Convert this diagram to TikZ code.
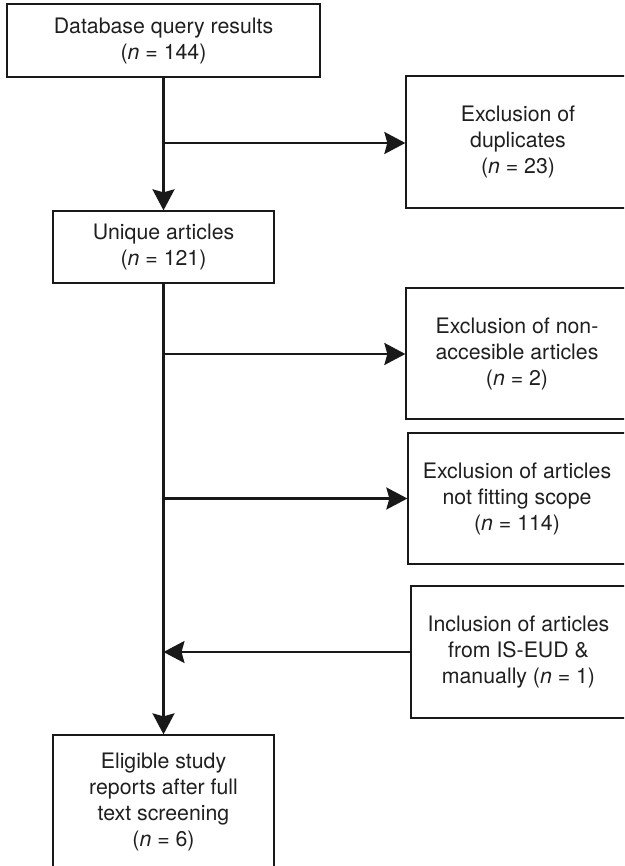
\documentclass[tikz,border=0pt]{standalone}
\usepackage{fontspec}
\setmainfont{TeX Gyre Heros}
\usetikzlibrary{arrows.meta}
\begin{document}
\begin{tikzpicture}[x=1pt,y=-1pt,
  box/.style={draw=black!90, line width=1.3pt, rectangle, inner sep=0pt, align=center,
    font=\fontsize{21.3}{26}\selectfont, text=black!88},
  conn/.style={draw=black!90, line width=2.4pt},
  arr/.style={conn, -{Stealth[length=21pt,width=22pt,inset=3pt]}}]
\useasboundingbox (0,0) rectangle (624,866);
\clip (0,0) rectangle (624,866);
\node[box, minimum width=313pt, minimum height=73pt] (db) at (163.5,40.5)
  {Database query results\\(\textit{n} = 144)};
\node[box, minimum width=224pt, minimum height=132pt] (dup) at (518,142)
  {Exclusion of\\duplicates\\(\textit{n} = 23)};
\node[box, minimum width=221pt, minimum height=72pt] (uniq) at (163.5,247)
  {Unique articles\\(\textit{n} = 121)};
\node[box, minimum width=222pt, minimum height=131pt] (nonacc) at (517,353.5)
  {Exclusion of non-\\accesible articles\\(\textit{n} = 2)};
\node[box, minimum width=218pt, minimum height=131pt] (scope) at (517,498.5)
  {Exclusion of articles\\not fitting scope\\(\textit{n} = 114)};
\node[box, minimum width=215pt, minimum height=132pt] (incl) at (518.5,652)
  {Inclusion of articles\\from IS-EUD \&\\manually (\textit{n} = 1)};
\node[box, minimum width=221pt, minimum height=133pt] (elig) at (163.5,801.5)
  {Eligible study\\reports after full\\text screening\\(\textit{n} = 6)};
\coordinate (b1) at (163.5,143);
\coordinate (b2) at (163.5,354);
\coordinate (b3) at (163.5,498.5);
\coordinate (b4) at (163.5,652);
\draw[arr] (db.south) -- (uniq.north);
\draw[arr] (b1) -- (dup.west |- b1);
\draw[arr] (uniq.south) -- (elig.north);
\draw[arr] (b2) -- (nonacc.west |- b2);
\draw[arr] (b3) -- (scope.west |- b3);
\draw[arr] (incl.west) -- (b4);
\end{tikzpicture}
\end{document}
